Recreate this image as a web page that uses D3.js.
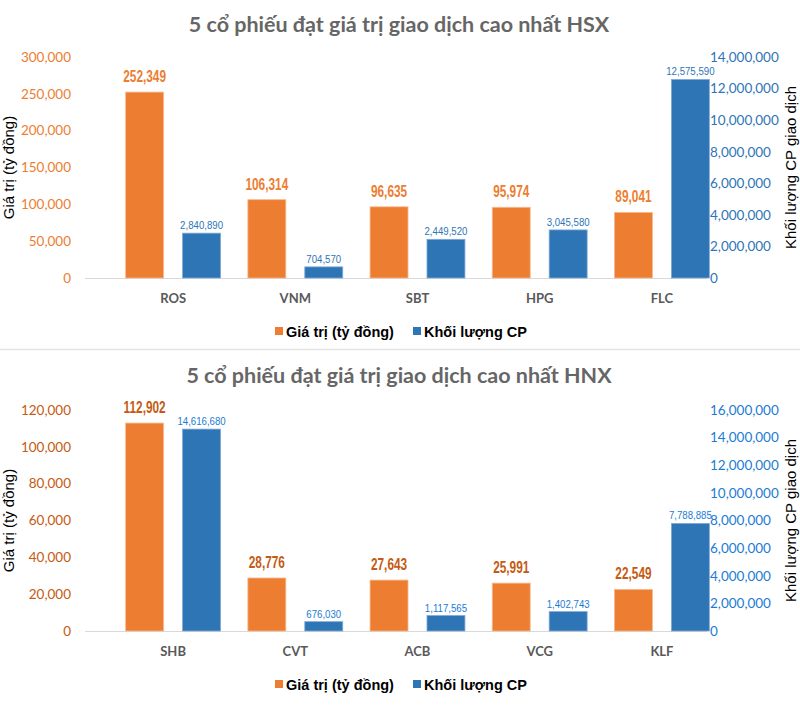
<!DOCTYPE html>
<html>
<head>
<meta charset="utf-8">
<script src="https://cdn.jsdelivr.net/npm/d3@7/dist/d3.min.js"></script>
<style>
  html, body { margin: 0; padding: 0; background: #fff; }
  svg { display: block; }
</style>
</head>
<body>
<svg id="chart" width="800" height="724"></svg>
<script>
// ---- Data ----
const hsxTitle = "5 cổ phiếu đạt giá trị giao dịch cao nhất HSX";
const hsxCategories = ["ROS", "VNM", "SBT", "HPG", "FLC"];
const hsxValue = [252349, 106314, 96635, 95974, 89041];
const hsxVolume = [2840890, 704570, 2449520, 3045580, 12575590];
const hsxLeftTicks = [0, 50000, 100000, 150000, 200000, 250000, 300000];
const hsxRightTicks = [0, 2000000, 4000000, 6000000, 8000000, 10000000, 12000000, 14000000];

const hnxTitle = "5 cổ phiếu đạt giá trị giao dịch cao nhất HNX";
const hnxCategories = ["SHB", "CVT", "ACB", "VCG", "KLF"];
const hnxValue = [112902, 28776, 27643, 25991, 22549];
const hnxVolume = [14616680, 676030, 1117565, 1402743, 7788885];
const hnxLeftTicks = [0, 20000, 40000, 60000, 80000, 100000, 120000];
const hnxRightTicks = [0, 2000000, 4000000, 6000000, 8000000, 10000000, 12000000, 14000000, 16000000];

const seriesNames = ["Giá trị (tỷ đồng)", "Khối lượng CP"];
const leftAxisTitle = "Giá trị (tỷ đồng)";
const rightAxisTitle = "Khối lượng CP giao dịch";

// ---- Drawing ----
const svg = d3.select("#chart");
const fmt = d3.format(",");
const ORANGE = "#ED7D31", BLUE = "#2E75B6";

function drawPanel(cfg) {
  const g = svg.append("g").attr("transform", `translate(0,${cfg.offsetY})`);
  const top = 57, bottom = 278, plotL = 85, plotR = 707;

  g.append("text")
    .attr("x", 399).attr("y", cfg.titleY)
    .attr("text-anchor", "middle")
    .attr("font-family", "Lato, 'Open Sans', sans-serif")
    .attr("font-weight", "bold").attr("font-size", 21.5)
    .attr("fill", "#666666")
    .text(cfg.title);

  const x0 = d3.scaleBand().domain(cfg.categories).range([112, 723]).padding(0);
  const x1 = d3.scaleBand().domain(["v", "q"]).range([0, x0.bandwidth()])
    .paddingInner(1 / 3).paddingOuter(0.24);
  const yL = d3.scaleLinear().domain([0, d3.max(cfg.leftTicks)]).range([bottom, top]);
  const yR = d3.scaleLinear().domain([0, d3.max(cfg.rightTicks)]).range([bottom, top]);

  // left axis
  const axL = g.append("g").attr("transform", `translate(${plotL - 14},0)`)
    .call(d3.axisLeft(yL).tickValues(cfg.leftTicks).tickFormat(fmt).tickSize(0).tickPadding(0));
  axL.select(".domain").remove();
  axL.selectAll("text").attr("font-family", "Lato, sans-serif").attr("font-size", 13.5)
    .attr("fill", cfg.leftColor);

  // right axis
  const axR = g.append("g").attr("transform", `translate(${plotR + 3},0)`)
    .call(d3.axisRight(yR).tickValues(cfg.rightTicks).tickFormat(fmt).tickSize(0).tickPadding(0));
  axR.select(".domain").remove();
  axR.selectAll("text").attr("font-family", "Lato, sans-serif").attr("font-size", 13.5)
    .attr("fill", cfg.rightColor);

  // axis titles
  g.append("text")
    .attr("transform", `translate(14,${(top + bottom) / 2}) rotate(-90)`)
    .attr("text-anchor", "middle")
    .attr("font-family", "'Liberation Sans', Arial, sans-serif").attr("font-size", 15)
    .attr("fill", "#000").text(leftAxisTitle);
  g.append("text")
    .attr("transform", `translate(796,${(top + bottom) / 2}) rotate(-90)`)
    .attr("text-anchor", "middle")
    .attr("font-family", "'Liberation Sans', Arial, sans-serif").attr("font-size", 15)
    .attr("fill", "#000").text(rightAxisTitle);

  // baseline
  g.append("line").attr("x1", plotL).attr("x2", plotR)
    .attr("y1", yL(0) + 0.5).attr("y2", yL(0) + 0.5)
    .attr("stroke", "#d9d9d9").attr("stroke-width", 1);

  const rows = cfg.categories.map((c, i) => ({ c, v: cfg.values[i], q: cfg.volumes[i] }));
  const grp = g.selectAll(".cat").data(rows).enter().append("g")
    .attr("transform", d => `translate(${x0(d.c)},0)`);

  grp.append("rect")
    .attr("x", x1("v")).attr("width", x1.bandwidth())
    .attr("y", d => yL(d.v)).attr("height", d => yL(0) - yL(d.v))
    .attr("fill", ORANGE).attr("stroke", "#f6b98e").attr("stroke-width", 0.8);
  grp.append("rect")
    .attr("x", x1("q")).attr("width", x1.bandwidth())
    .attr("y", d => yR(d.q)).attr("height", d => yR(0) - yR(d.q))
    .attr("fill", BLUE).attr("stroke", "#7fa9d6").attr("stroke-width", 0.8);

  // value labels (condensed look via horizontal scale)
  grp.append("g")
    .attr("transform", d => `translate(${x1("v") + x1.bandwidth() / 2},${yL(d.v) - 10}) scale(0.74,1)`)
    .append("text")
    .attr("text-anchor", "middle")
    .attr("font-family", "'Liberation Sans', Arial, sans-serif")
    .attr("font-weight", "bold").attr("font-size", 16)
    .attr("fill", cfg.valueLabelColor)
    .text(d => fmt(d.v));
  grp.append("g")
    .attr("transform", d => `translate(${x1("q") + x1.bandwidth() / 2},${yR(d.q) - 4}) scale(0.84,1)`)
    .append("text")
    .attr("text-anchor", "middle")
    .attr("font-family", "'Liberation Sans', Arial, sans-serif")
    .attr("font-size", 11.5)
    .attr("fill", cfg.rightColor)
    .text(d => fmt(d.q));

  // category labels
  grp.append("text")
    .attr("x", x0.bandwidth() / 2).attr("y", bottom + 25)
    .attr("text-anchor", "middle")
    .attr("font-family", "Lato, sans-serif").attr("font-weight", "bold").attr("font-size", 13)
    .attr("fill", "#595959")
    .text(d => d.c);

  // legend
  const lg = g.append("g").attr("transform", `translate(0,${bottom + 54})`);
  const legendItems = [
    { name: seriesNames[0], color: ORANGE, x: 275 },
    { name: seriesNames[1], color: BLUE, x: 413 }
  ];
  legendItems.forEach(it => {
    lg.append("rect").attr("x", it.x).attr("y", -5).attr("width", 8).attr("height", 8).attr("fill", it.color);
    lg.append("text").attr("x", it.x + 11).attr("y", 5)
      .attr("font-family", "'Liberation Sans', Arial, sans-serif").attr("font-weight", "bold")
      .attr("font-size", 14.5).attr("fill", "#000").text(it.name);
  });
}

drawPanel({
  offsetY: 0, titleY: 32, title: hsxTitle, categories: hsxCategories, values: hsxValue, volumes: hsxVolume,
  leftTicks: hsxLeftTicks, rightTicks: hsxRightTicks,
  leftColor: "#ED7D31", rightColor: "#2E75B6", valueLabelColor: "#ED7D31"
});
drawPanel({
  offsetY: 353, titleY: 30, title: hnxTitle, categories: hnxCategories, values: hnxValue, volumes: hnxVolume,
  leftTicks: hnxLeftTicks, rightTicks: hnxRightTicks,
  leftColor: "#C55A11", rightColor: "#1B7CD3", valueLabelColor: "#C55A11"
});

// separator
svg.append("line").attr("x1", 0).attr("x2", 800).attr("y1", 349.5).attr("y2", 349.5)
  .attr("stroke", "#e3e3e3").attr("stroke-width", 1.5);
</script>
</body>
</html>
